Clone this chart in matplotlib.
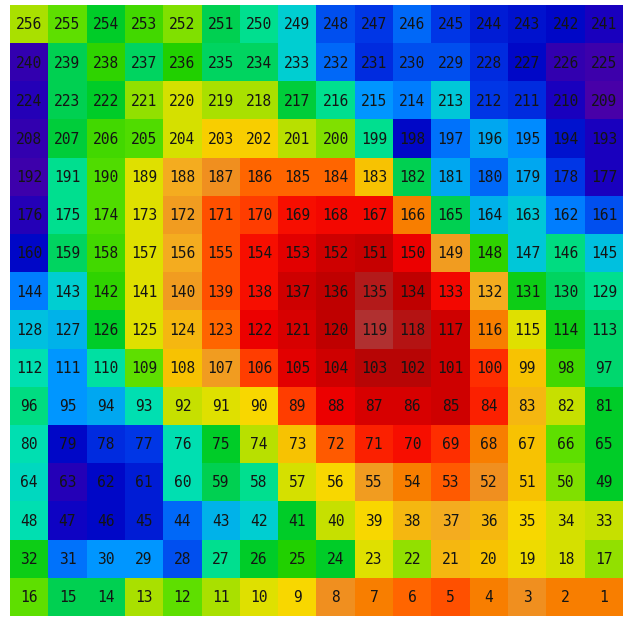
import numpy as np
import matplotlib

matplotlib.use("Agg")
import matplotlib.pyplot as plt  # noqa: E402
from matplotlib.colors import LinearSegmentedColormap  # noqa: E402

# colour stops of the palette, low -> high
palette = [
    "#4800a8", "#3000b0", "#1800c0", "#0008c8", "#0020d8", "#0038e8",
    "#0050f0", "#0068f8", "#0080ff", "#0098ff", "#00a8f0", "#00c0e0",
    "#00d0d0", "#00e0b0", "#00e090", "#00d870", "#00d050", "#00cc28",
    "#20d000", "#40d800", "#60e000", "#80e000", "#a8e000", "#c8e000",
    "#e0e000", "#f8d800", "#f8c400", "#f4ac20", "#f09020", "#f88000",
    "#ff6800", "#ff5000", "#ff3000", "#f81000", "#f00000", "#d80000",
    "#c80000", "#b80000", "#b03030",
]

# cell levels, top row first (labels 256..241) down to bottom row (16..1)
levels = [
    [22, 20, 17, 19, 21, 16, 14, 12, 6, 5, 7, 5, 4, 3.5, 3, 2],
    [1, 16, 18.5, 15.5, 18, 15.5, 15.5, 12, 7, 4.5, 6, 6, 4.5, 3, 1, 0.5],
    [1.5, 16, 17, 21.5, 23.5, 22, 22, 16.5, 14, 9, 8, 11.5, 5, 4.5, 2, 0],
    [1, 16.5, 19, 19.5, 23.5, 25.5, 25.5, 22.5, 21, 14, 3, 7.5, 10, 8.5, 3.5, 2],
    [0.5, 14, 19.5, 24, 27, 28, 30, 30, 30, 26, 16, 10, 7, 10, 5, 2],
    [1.5, 14, 19.5, 24, 27.5, 31, 31.5, 33, 33.5, 33.5, 29, 16, 10.5, 11.5, 8, 6],
    [3, 15.5, 19, 24, 27, 31, 33, 34.5, 35.5, 36, 34, 27.5, 18.5, 11.5, 14.5, 11],
    [8, 12, 18.5, 24, 27.5, 31, 33, 35.5, 36.5, 37.5, 36.5, 33.5, 27, 17.5, 15.5, 14],
    [11, 10.5, 17, 24, 26.5, 30, 34, 35, 36.5, 38, 37.3, 35.5, 29, 24, 17.5, 15],
    [13, 9, 13.5, 20, 26, 27.5, 31.5, 34.5, 35.5, 37, 37, 35.5, 32, 26, 19, 15],
    [14.5, 9, 10, 13, 23, 24, 25, 31.5, 34, 35, 35, 35.5, 32.5, 26.5, 23, 17],
    [13, 3, 4.5, 5, 13, 17, 22.5, 26, 30.5, 32.5, 33, 32, 29, 26, 20, 17],
    [12.5, 1.5, 3, 4, 13, 16, 14, 23.5, 25, 27.5, 29, 30.5, 28, 26, 21, 17],
    [13, 2.5, 3, 4, 7, 10.5, 12, 17, 23, 25, 26.5, 27, 26.5, 25, 23.5, 23],
    [17.5, 7.5, 9, 9, 6, 14, 17, 18, 17, 24, 21.5, 26.5, 26, 24.5, 23.5, 21.5],
    [20, 16, 16, 22, 20, 22, 24, 25, 28, 29, 30, 31, 29, 28, 29, 29],
]

# cell labels: 256 at top-left, 1 at bottom-right
n_rows = 16
n_cols = 16
labels = np.arange(n_rows * n_cols, 0, -1).reshape(n_rows, n_cols)


def main() -> None:
    cmap = LinearSegmentedColormap.from_list("grid", palette)
    data = np.array(levels, dtype=float)

    fig = plt.figure(figsize=(6.32, 6.17), dpi=100)
    ax = fig.add_axes([10 / 632, 0, 613 / 632, 612 / 617])
    ax.imshow(data, cmap=cmap, vmin=0, vmax=len(palette) - 1,
              interpolation="nearest", aspect="auto")

    for r in range(n_rows):
        for c in range(n_cols):
            ax.text(c, r + 0.02, str(labels[r, c]), ha="center", va="center",
                    fontsize=10.5, family="DejaVu Sans Mono", color="#141414",
                    fontweight="light")

    ax.set_xlim(-0.5, n_cols - 0.5)
    ax.set_ylim(n_rows - 0.5 + 0.03, -0.5)
    ax.axis("off")

    fig.savefig("out.png", dpi=100)


if __name__ == "__main__":
    main()
